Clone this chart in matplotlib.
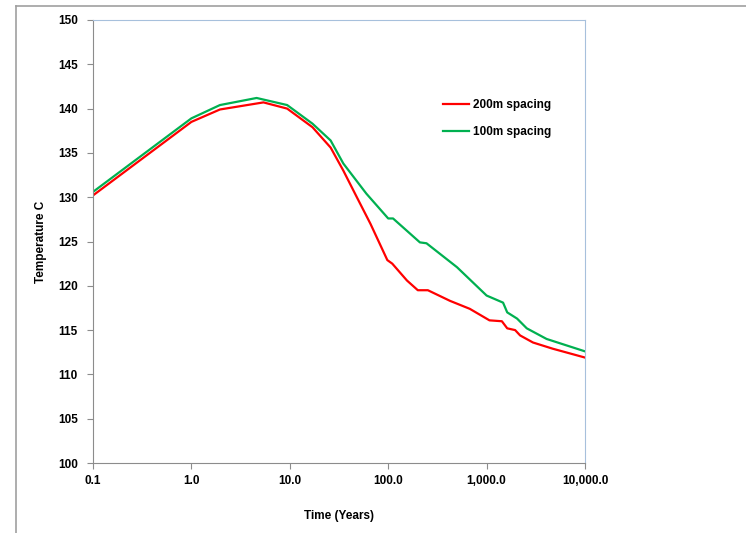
import numpy as np
import matplotlib
matplotlib.use("Agg")
import matplotlib.pyplot as plt
from matplotlib.lines import Line2D
from matplotlib.ticker import FuncFormatter, FixedLocator

# values (time in years, temperature in C)
t_200 = [0.1, 1.0, 1.95, 5.4, 9.4, 17, 26, 35, 48, 66, 98, 110, 155, 200, 253,
         425, 675, 1070, 1430, 1620, 1950, 2190, 2960, 4700, 10000]
T_200 = [130.2, 138.5, 139.9, 140.7, 140.0, 137.9, 135.6, 133.0, 130.0, 127.0,
         122.9, 122.5, 120.6, 119.5, 119.5, 118.3, 117.4, 116.1, 116.0, 115.2,
         115.0, 114.4, 113.6, 112.9, 111.9]

t_100 = [0.1, 1.0, 1.95, 4.6, 9.4, 17, 26, 35, 60, 100, 112, 210, 245, 500,
         1000, 1470, 1620, 2040, 2560, 4070, 10000]
T_100 = [130.6, 138.9, 140.4, 141.2, 140.4, 138.3, 136.4, 133.8, 130.4, 127.6,
         127.6, 124.9, 124.8, 122.1, 118.9, 118.1, 117.0, 116.3, 115.2, 114.0,
         112.6]

x_ticks = [0.1, 1, 10, 100, 1000, 10000]
y_ticks = np.arange(100, 151, 5)

plt.rcParams['font.family'] = ['Liberation Sans', 'DejaVu Sans']

fig = plt.figure(figsize=(7.46, 5.33), dpi=100)
ax = fig.add_axes([93/746, 1 - 463/533, (585 - 93)/746, (463 - 20)/533])

ax.plot(t_200, T_200, color="#ff0000", linewidth=1.6, label="200m spacing")
ax.plot(t_100, T_100, color="#00b050", linewidth=1.6, label="100m spacing")

ax.set_xscale("log")
ax.set_xlim(0.1, 10000)
ax.set_ylim(100, 150)
ax.xaxis.set_major_locator(FixedLocator(x_ticks))
ax.xaxis.set_minor_locator(FixedLocator([]))
ax.xaxis.set_major_formatter(FuncFormatter(lambda v, p: f"{v:,.1f}"))
ax.set_yticks(y_ticks)

for side in ["left", "bottom"]:
    ax.spines[side].set_color("#8c8c8c")
for side in ["top", "right"]:
    ax.spines[side].set_color("#a7c0dc")
ax.tick_params(direction="out", length=4, color="#8c8c8c", labelsize=8.5)
for lab in ax.get_xticklabels() + ax.get_yticklabels():
    lab.set_fontweight("bold")
ax.tick_params(axis="x", pad=5)
ax.tick_params(axis="y", pad=7)

ax.set_xlabel("Time (Years)", fontsize=8.5, fontweight="bold", labelpad=16)
ax.set_ylabel("Temperature C", fontsize=8.5, fontweight="bold", labelpad=8)

ax.legend(loc="upper left", bbox_to_anchor=(0.69, 0.845), frameon=False,
          prop={"size": 8.5, "weight": "bold"}, handlelength=2.2,
          handletextpad=0.3, labelspacing=1.25)

# outer chart frame (cropped on the right and bottom)
fig.add_artist(Line2D([16/746, 1], [1 - 6/533, 1 - 6/533], color="#a0a0a0", linewidth=1.2))
fig.add_artist(Line2D([16/746, 16/746], [0, 1 - 6/533], color="#a0a0a0", linewidth=1.2))

fig.savefig("out.png", dpi=100)
